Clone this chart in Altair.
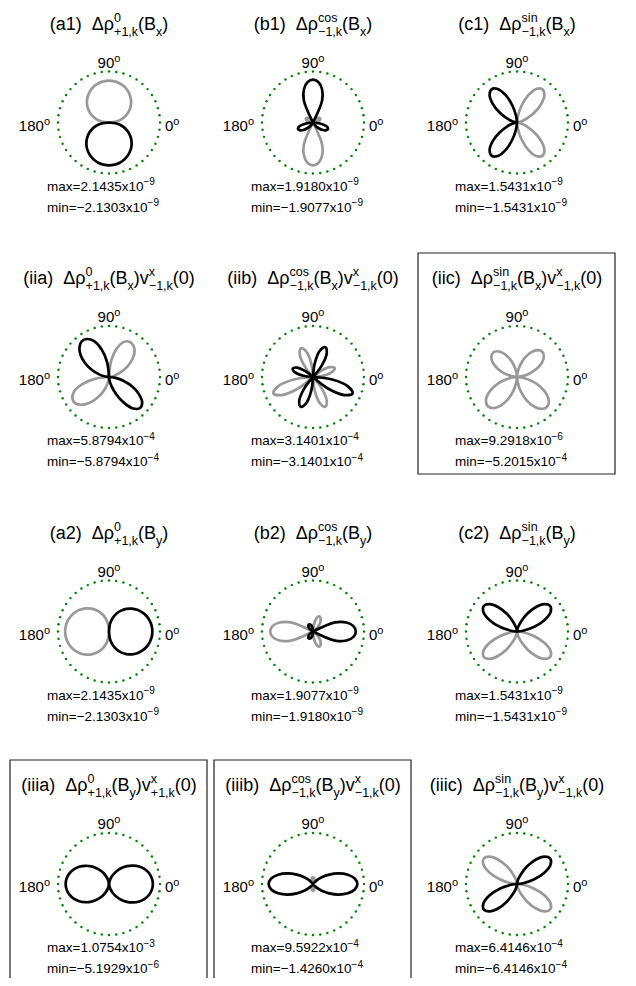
import altair as alt
import pandas as pd

# ---------------- data ----------------
# signed, normalised lobe radius (outer dotted ring = 1) every 7.5 degrees, 0..352.5
# value > 0 -> black curve, value < 0 -> grey curve, plotted at |value|
ANG_STEP = 7.5
PANELS = ["a1", "b1", "c1", "iia", "iib", "iic", "a2", "b2", "c2", "iiia", "iiib", "iiic"]

a1 = [0, -.145, -.26, -.362, -.455, -.538, -.611, -.673, -.726, -.767, -.796, -.814,
      -.82, -.814, -.796, -.767, -.726, -.673, -.611, -.538, -.455, -.362, -.26, -.145,
      0, .149, .266, .371, .466, .551, .626, .69, .743, .785, .816, .834,
      .84, .834, .816, .785, .743, .69, .626, .551, .466, .371, .266, .149]
b1 = [0, -.07, -.12, -.15, -.16, -.15, -.12, -.07, 0, .47, .68, .80,
      .84, .80, .68, .47, 0, -.07, -.12, -.15, -.16, -.15, -.12, -.07,
      0, .14, .27, .32, .30, .24, .16, .08, 0, -.47, -.68, -.80,
      -.84, -.80, -.68, -.47, 0, .08, .16, .24, .30, .32, .27, .14]
c1 = [0, -.03, -.10, -.22, -.40, -.60, -.76, -.82, -.76, -.58, -.34, -.12,
      0, .12, .34, .58, .76, .82, .76, .60, .40, .22, .10, .03,
      0, .03, .10, .22, .40, .60, .76, .82, .76, .58, .34, .12,
      0, -.12, -.34, -.58, -.76, -.82, -.76, -.60, -.40, -.22, -.10, -.03]
iia = [0, -.04, -.12, -.25, -.42, -.58, -.71, -.78, -.80, -.74, -.58, -.32,
       0, .30, .56, .76, .86, .88, .82, .70, .54, .36, .20, .07,
       0, -.28, -.54, -.74, -.83, -.84, -.77, -.64, -.48, -.32, -.18, -.06,
       0, .06, .18, .36, .58, .78, .86, .82, .68, .50, .30, .13]
iib = [0, -.21, -.39, -.46, -.39, -.21, 0, .28, .54, .63, .54, .28,
       0, -.27, -.52, -.61, -.52, -.27, 0, .19, .37, .43, .37, .19,
       0, -.38, -.71, -.84, -.71, -.38, 0, .28, .54, .63, .54, .28,
       0, -.28, -.54, -.63, -.54, -.28, 0, .38, .71, .84, .71, .38]
iic = [0, -.092, -.248, -.417, -.564, -.664, -.70, -.664, -.564, -.417, -.248, -.092,
       0, -.088, -.237, -.399, -.540, -.636, -.67, -.636, -.540, -.399, -.237, -.088,
       0, -.107, -.287, -.482, -.653, -.769, -.81, -.769, -.653, -.482, -.287, -.107,
       0, -.110, -.294, -.494, -.669, -.788, -.83, -.788, -.669, -.494, -.294, -.110]
a2 = [.85, .844, .825, .795, .752, .698, .633, .558, .472, .376, .269, .150,
      0, -.152, -.273, -.380, -.477, -.564, -.641, -.706, -.761, -.804, -.835, -.854,
      -.86, -.854, -.835, -.804, -.761, -.706, -.641, -.564, -.477, -.380, -.273, -.152,
      0, .150, .269, .376, .472, .558, .633, .698, .752, .795, .825, .844]
b2 = [.84, .80, .68, .47, 0, -.08, -.16, -.24, -.30, -.32, -.27, -.14,
      0, .07, .12, .15, .16, .15, .12, .07, 0, -.47, -.68, -.80,
      -.84, -.80, -.68, -.47, 0, .07, .12, .15, .16, .15, .12, .07,
      0, -.14, -.27, -.32, -.30, -.24, -.16, -.08, 0, .47, .68, .80]
c2 = [0, .12, .34, .58, .76, .82, .76, .60, .40, .22, .10, .03,
      0, .03, .10, .22, .40, .60, .76, .82, .76, .58, .34, .12,
      0, -.12, -.34, -.58, -.76, -.82, -.76, -.60, -.40, -.22, -.10, -.03,
      0, -.03, -.10, -.22, -.40, -.60, -.76, -.82, -.76, -.58, -.34, -.12]
iiia = [.86, .848, .814, .758, .683, .593, .494, .389, .284, .185, .099, .033,
        0, .032, .098, .183, .281, .384, .488, .587, .675, .749, .804, .838,
        .85, .838, .804, .749, .675, .587, .488, .384, .281, .183, .098, .032,
        0, .033, .099, .185, .284, .389, .494, .593, .683, .758, .814, .848]
iiib = [.87, .826, .706, .541, .367, .217, .109, 0, -.03, -.07, -.10, -.125,
        -.13, -.125, -.10, -.07, -.03, 0, .109, .217, .367, .541, .706, .826,
        .87, .826, .706, .541, .367, .217, .109, 0, -.03, -.07, -.10, -.125,
        -.13, -.125, -.10, -.07, -.03, 0, .109, .217, .367, .541, .706, .826]
iiic = [0, .12, .34, .58, .76, .82, .76, .60, .40, .22, .10, .03,
        0, -.03, -.10, -.22, -.40, -.60, -.76, -.82, -.76, -.58, -.34, -.12,
        0, .12, .34, .58, .76, .82, .76, .60, .40, .22, .10, .03,
        0, -.03, -.10, -.22, -.40, -.60, -.76, -.82, -.76, -.58, -.34, -.12]
VALUES = [a1, b1, c1, iia, iib, iic, a2, b2, c2, iiia, iiib, iiic]

TITLE_LABEL = ["(a1)", "(b1)", "(c1)", "(iia)", "(iib)", "(iic)",
               "(a2)", "(b2)", "(c2)", "(iiia)", "(iiib)", "(iiic)"]
TITLE_SUP = ["0", "cos", "sin"] * 4
TITLE_SUB = ["+1,k", "\u22121,k", "\u22121,k"] * 4
B_SUB = ["x"] * 6 + ["y"] * 6
V_SUB = [None, None, None, "\u22121,k", "\u22121,k", "\u22121,k",
         None, None, None, "+1,k", "\u22121,k", "\u22121,k"]

MAX_MANT = ["2.1435", "1.9180", "1.5431", "5.8794", "3.1401", "9.2918",
            "2.1435", "1.9077", "1.5431", "1.0754", "9.5922", "6.4146"]
MAX_EXP = ["\u22129", "\u22129", "\u22129", "\u22124", "\u22124", "\u22126",
           "\u22129", "\u22129", "\u22129", "\u22123", "\u22124", "\u22124"]
MIN_MANT = ["\u22122.1303", "\u22121.9077", "\u22121.5431", "\u22125.8794", "\u22123.1401", "\u22125.2015",
            "\u22122.1303", "\u22121.9180", "\u22121.5431", "\u22125.1929", "\u22121.4260", "\u22126.4146"]
MIN_EXP = ["\u22129", "\u22129", "\u22129", "\u22124", "\u22124", "\u22124",
           "\u22129", "\u22129", "\u22129", "\u22126", "\u22124", "\u22124"]
BOXED = ["iic", "iiia", "iiib"]

# ---------------- layout ----------------
COL_X = [109, 313, 517]
ROW_Y = [122.5, 377, 631.5, 884]
RING = 51
FONT = "Liberation Sans"

W = {' ': 278, '(': 333, ')': 333, '+': 584, ',': 278, '.': 278, '=': 584,
     '\u2212': 584, 'B': 667, 'a': 556, 'b': 556, 'c': 500, 'i': 222, 'k': 500,
     'm': 833, 'n': 556, 'o': 556, 's': 500, 'v': 500, 'x': 500, 'y': 500,
     '\u0394': 668, '\u03c1': 578}
for d in "0123456789":
    W[d] = 556


def tw(s, fs):
    return sum(W.get(c, 556) for c in s) * fs / 1000.0


def compose(pieces, fs, sfs, base, sup_dy, sub_dy):
    rows, x = [], 0.0
    for kind, t in pieces:
        if kind == "n":
            rows.append([x, base, t, fs]); x += tw(t, fs)
        elif kind == "gap":
            x += t
        elif kind == "sup":
            rows.append([x, base - sup_dy, t, sfs]); x += tw(t, sfs)
        elif kind == "sub":
            rows.append([x, base + sub_dy, t, sfs]); x += tw(t, sfs)
        elif kind == "ss":
            sp, sb = t
            rows.append([x, base - sup_dy, sp, sfs])
            rows.append([x, base + sub_dy, sb, sfs])
            x += max(tw(sp, sfs), tw(sb, sfs))
    return rows, x


text_rows = []
curve_rows = []
ring_rows = []
box_rows = []

for i, p in enumerate(PANELS):
    cx = COL_X[i % 3]
    cy = ROW_Y[i // 3]

    # title
    pieces = [("n", TITLE_LABEL[i]), ("gap", 10), ("n", "\u0394\u03c1"),
              ("ss", (TITLE_SUP[i], TITLE_SUB[i])), ("n", "(B"), ("sub", B_SUB[i]), ("n", ")")]
    if V_SUB[i]:
        pieces += [("n", "v"), ("ss", ("x", V_SUB[i])), ("n", "(0)")]
    rows, w = compose(pieces, 18, 12.5, cy - 93, 8, 6)
    for r in rows:
        text_rows.append(dict(x=cx - w / 2 + r[0], y=r[1], text=r[2], fs=r[3]))

    # angle labels
    rows, w = compose([("n", "90"), ("sup", "o")], 15, 11, cy - 55, 6, 0)
    for r in rows:
        text_rows.append(dict(x=cx - w / 2 + r[0], y=r[1], text=r[2], fs=r[3]))
    rows, w = compose([("n", "180"), ("sup", "o")], 15, 11, cy + 8, 6, 0)
    for r in rows:
        text_rows.append(dict(x=cx - 59 - w + r[0], y=r[1], text=r[2], fs=r[3]))
    rows, w = compose([("n", "0"), ("sup", "o")], 15, 11, cy + 8, 6, 0)
    for r in rows:
        text_rows.append(dict(x=cx + 56 + r[0], y=r[1], text=r[2], fs=r[3]))

    # max / min
    rows, w = compose([("n", "max=" + MAX_MANT[i] + "x10"), ("sup", MAX_EXP[i])], 13.5, 10, cy + 68, 5.5, 0)
    for r in rows:
        text_rows.append(dict(x=cx - 62 + r[0], y=r[1], text=r[2], fs=r[3]))
    rows, w = compose([("n", "min=" + MIN_MANT[i] + "x10"), ("sup", MIN_EXP[i])], 13.5, 10, cy + 89, 5.5, 0)
    for r in rows:
        text_rows.append(dict(x=cx - 62 + r[0], y=r[1], text=r[2], fs=r[3]))

    # dotted ring (guide)
    for k in range(44):
        ring_rows.append(dict(cx=cx, cy=cy, ang=k * 360.0 / 44))

    # box
    if p in BOXED:
        box_rows.append(dict(x=cx - 99, x2=cx + 98, y=cy - 124, y2=cy + 97))

    # lobes: split the signed series at its zeros
    vals = VALUES[i]
    n = len(vals)
    i0 = next(k for k in range(n) if vals[k] == 0)
    seq = [(i0 + j) % n for j in range(n + 1)]
    segs, cur = [], []
    for idx in seq:
        v = vals[idx]
        cur.append(idx)
        if v == 0:
            if len(cur) > 2:
                segs.append(cur)
            cur = [idx]
    if len(cur) > 2:
        segs.append(cur)
    for s_i, seg in enumerate(segs):
        sgn = "pos" if max(vals[k] for k in seg) > 0 else "neg"
        for o, k in enumerate(seg):
            curve_rows.append(dict(seg=f"{p}_{s_i}", ord=o, ang=k * ANG_STEP,
                                   r=abs(vals[k]), sign=sgn, cx=cx, cy=cy))

texts = pd.DataFrame(text_rows)
curves = pd.DataFrame(curve_rows)
rings = pd.DataFrame(ring_rows)
boxes = pd.DataFrame(box_rows)

xs = alt.Scale(domain=[8, 628], nice=False, zero=False)
ys = alt.Scale(domain=[8, 978], nice=False, zero=False, reverse=True)

ring_layer = alt.Chart(rings).transform_calculate(
    px="datum.cx + %d*cos(datum.ang*PI/180)" % RING,
    py="datum.cy - %d*sin(datum.ang*PI/180)" % RING,
).mark_circle(size=6, color="#008000", opacity=1).encode(
    x=alt.X("px:Q", scale=xs, axis=None),
    y=alt.Y("py:Q", scale=ys, axis=None),
)


def lobe_layer(sign, color):
    return alt.Chart(curves).transform_filter(
        alt.datum.sign == sign
    ).transform_calculate(
        px="datum.cx + %d*datum.r*cos(datum.ang*PI/180)" % RING,
        py="datum.cy - %d*datum.r*sin(datum.ang*PI/180)" % RING,
    ).mark_line(strokeWidth=2.7, color=color, interpolate="catmull-rom",
                strokeCap="round", strokeJoin="round").encode(
        x=alt.X("px:Q", scale=xs, axis=None),
        y=alt.Y("py:Q", scale=ys, axis=None),
        detail="seg:N",
        order="ord:Q",
    )


text_layer = alt.Chart(texts).mark_text(
    align="left", baseline="alphabetic", font=FONT, color="#000000"
).encode(
    x=alt.X("x:Q", scale=xs, axis=None),
    y=alt.Y("y:Q", scale=ys, axis=None),
    text="text:N",
    size=alt.Size("fs:Q", scale=None, legend=None),
)

box_layer = alt.Chart(boxes).mark_rect(
    fillOpacity=0, stroke="#222222", strokeWidth=1.2
).encode(
    x=alt.X("x:Q", scale=xs, axis=None),
    x2="x2:Q",
    y=alt.Y("y:Q", scale=ys, axis=None),
    y2="y2:Q",
)

chart = alt.layer(
    box_layer, ring_layer, lobe_layer("neg", "#999999"), lobe_layer("pos", "#000000"), text_layer
).properties(
    width=620, height=970, padding=0,
    autosize=alt.AutoSizeParams(type="none"),
).configure_view(stroke=None)

chart.save("out.html", embed_options={"renderer": "svg", "actions": False})
